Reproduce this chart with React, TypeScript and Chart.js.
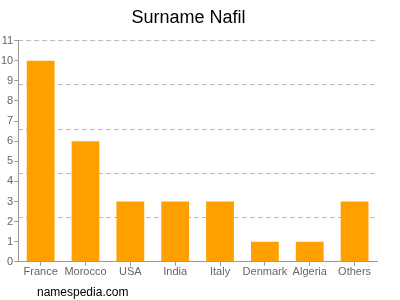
import React, { useEffect, useRef } from "react";
import { Chart, registerables } from "chart.js";

Chart.register(...registerables);

const categories = ["France", "Morocco", "USA", "India", "Italy", "Denmark", "Algeria", "Others"];
const counts = [10, 6, 3, 3, 3, 1, 1, 3];
const titleText = "Surname Nafil";
const footerText = "namespedia.com";
const yMax = 11;
const gridStep = 2.2;

export default function App() {
  const ref = useRef<HTMLCanvasElement | null>(null);
  useEffect(() => {
    if (!ref.current) return;
    const chart = new Chart(ref.current, {
      type: "bar",
      data: {
        labels: categories,
        datasets: [
          {
            data: counts,
            backgroundColor: "#ffa000",
            borderWidth: 0,
            barPercentage: 0.62,
            categoryPercentage: 1,
          },
        ],
      },
      options: {
        responsive: false,
        animation: false,
        layout: { padding: { left: 0, right: 23, top: 0, bottom: 21 } },
        plugins: {
          legend: { display: false },
          tooltip: { enabled: false },
          title: {
            display: true,
            text: titleText,
            color: "#000",
            font: { family: "'Liberation Sans', Arial, sans-serif", size: 18, weight: "normal" },
            padding: { top: 7, bottom: 12 },
          },
        },
        scales: {
          x: {
            grid: { drawOnChartArea: false, offset: false, tickLength: 4, color: "#999" },
            border: { color: "#999" },
            ticks: {
              color: "#666",
              font: { family: "'Liberation Sans', Arial, sans-serif", size: 11 },
              padding: 0,
              maxRotation: 0,
              autoSkip: false,
            },
          },
          y: {
            min: 0,
            max: yMax,
            grid: { drawOnChartArea: false, tickLength: 4, color: "#999" },
            border: { color: "#999" },
            ticks: {
              stepSize: 1,
              color: "#666",
              font: { family: "'Liberation Sans', Arial, sans-serif", size: 11 },
              padding: 1,
            },
          },
          yGrid: {
            position: "left",
            min: 0,
            max: yMax,
            display: true,
            grid: { drawTicks: false, color: "#bbb", tickLength: 0 },
            border: { display: false, dash: [5, 3] },
            ticks: { display: false, stepSize: gridStep },
          },
        },
      },
    });
    return () => chart.destroy();
  }, []);
  return (
    <div style={{ position: "fixed", left: 0, top: 0, width: 400, height: 300, background: "#fff" }}>
      <canvas ref={ref} width={400} height={300} />
      <div
        style={{
          position: "absolute",
          left: 37,
          top: 285,
          fontFamily: "'Liberation Sans', Arial, sans-serif",
          fontSize: 12,
          color: "#000",
        }}
      >
        {footerText}
      </div>
    </div>
  );
}
